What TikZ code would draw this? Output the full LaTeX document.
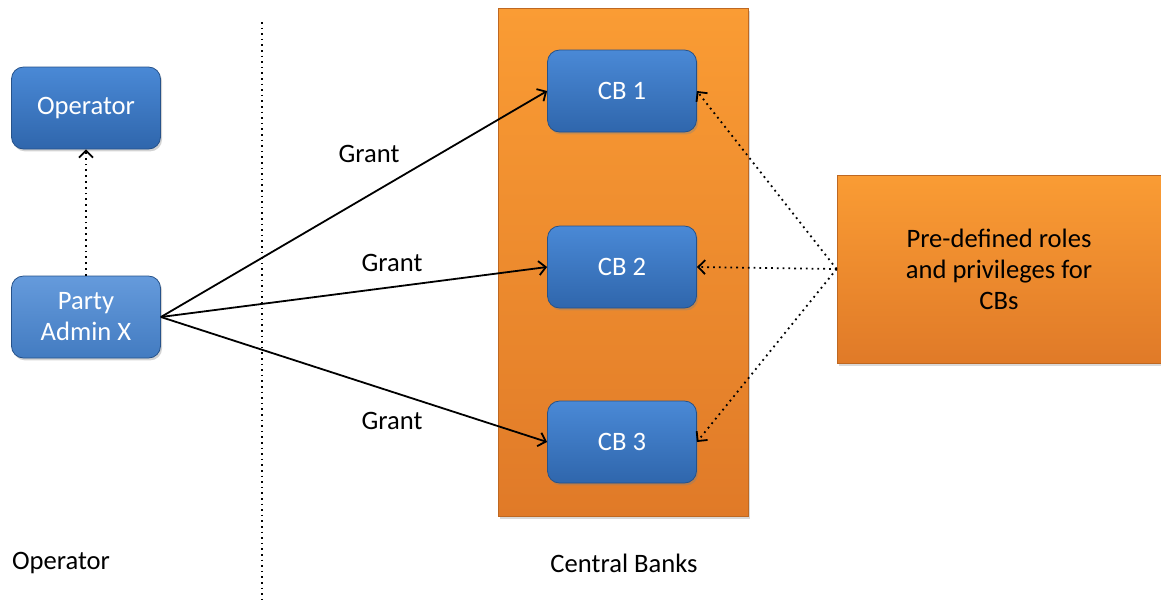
\documentclass[tikz,border=0pt]{standalone}
\usepackage{fontspec}
\setmainfont{Carlito}
\usetikzlibrary{positioning,shadows,arrows.meta}

\definecolor{cbtop}{HTML}{4A89D6}
\definecolor{cbbot}{HTML}{2F66AC}
\definecolor{ortop}{HTML}{FA9C34}
\definecolor{orbot}{HTML}{E07A28}

\begin{document}
\begin{tikzpicture}[x=0.5pt,y=-0.5pt,
  font=\fontsize{13.3}{15.5}\selectfont,
  >={Straight Barb[length=3.5pt,width=7pt]},
  bluebox/.style={rounded corners=6pt,draw=cbbot!80!black,top color=cbtop,bottom color=cbbot,
    text=white,minimum width=74.5pt,minimum height=41pt,align=center,
    drop shadow={opacity=0.35,shadow xshift=0.8pt,shadow yshift=-1.2pt}},
  orangebox/.style={draw=orbot!85!black,top color=ortop,bottom color=orbot,align=center,
    drop shadow={opacity=0.3,shadow xshift=1pt,shadow yshift=-1.5pt}},
  grant/.style={->,line width=0.9pt},
  link/.style={->,dotted,line width=0.9pt}]
\useasboundingbox (0,0) rectangle (1161,601);

\node[orangebox,minimum width=125pt,minimum height=254pt] (banks) at (623,262) {};
\node[orangebox,minimum width=162pt,minimum height=94pt] (roles) at (999,269) {Pre-defined roles\\and privileges for\\CBs};

\node[bluebox] (operator) at (86,108) {Operator};
\node[bluebox,top color=cbtop!85!white,bottom color=cbtop!90!black] (admin) at (86,317) {Party\\Admin X};
\node[bluebox] (cb1) at (622,91) {CB 1};
\node[bluebox] (cb2) at (622,267) {CB 2};
\node[bluebox] (cb3) at (622,442) {CB 3};

% separator
\coordinate (top) at (262,22);
\coordinate (bot) at (262,601);
\draw[dotted,line width=0.8pt] (top) -- (bot);

\draw[grant] (admin.east) -- (cb1.west);
\draw[grant] (admin.east) -- (cb2.west);
\draw[grant] (admin.east) -- (cb3.west);
\node (g1) at (369,154) {Grant};
\node (g2) at (392,263) {Grant};
\node (g3) at (392,421) {Grant};

\draw[link] (admin) -- (operator);
\draw[link] (roles.west) -- (cb1.east);
\draw[link] (roles.west) -- (cb2.east);
\draw[link] (roles.west) -- (cb3.east);

\node (oplabel) at (61,563) {Operator};
\node (cblabel) at (624,563) {Central Banks};
\end{tikzpicture}
\end{document}
